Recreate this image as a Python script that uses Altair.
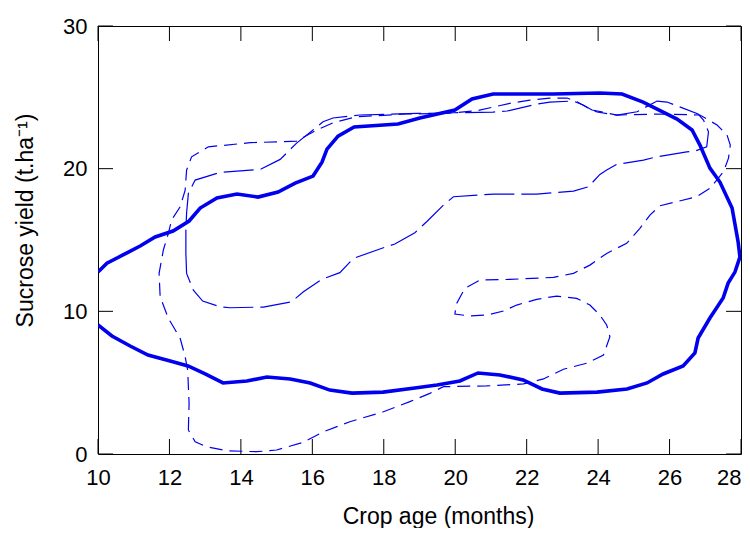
import altair as alt
import pandas as pd

BLUE = "#0000ee"
FONT = "Liberation Sans"
W, H = 643, 428

x_ticks = [10, 12, 14, 16, 18, 20, 22, 24, 26, 28]
y_ticks = [0, 10, 20, 30]

# Thick solid contour (open path from left edge, around, back to left edge)
thick_x = [10.00, 10.25, 10.70, 11.18, 11.60, 12.10, 12.55, 12.86, 13.33, 13.89,
           14.48, 15.04, 15.52, 16.02, 16.27, 16.41, 16.72, 17.17, 18.40, 19.01,
           19.99, 20.47, 21.06, 21.73, 22.74, 24.05, 24.67, 25.26, 25.82, 26.21,
           26.63, 26.85, 27.13, 27.41, 27.75, 27.92, 27.97, 27.83, 27.64, 27.50,
           27.13, 26.80, 26.71, 26.38, 25.82, 25.37, 24.81, 23.97, 22.93, 22.43,
           21.90, 21.25, 20.64, 20.13, 19.49, 18.87, 17.98, 17.11, 16.49, 15.94,
           15.38, 14.73, 14.17, 13.50, 13.00, 12.52, 12.02, 11.40, 10.90, 10.39,
           10.00]
thick_y = [12.75, 13.38, 13.95, 14.58, 15.21, 15.63, 16.33, 17.24, 17.94, 18.22,
           18.01, 18.36, 18.99, 19.48, 20.46, 21.37, 22.28, 22.92, 23.13, 23.55,
           24.11, 24.88, 25.23, 25.23, 25.23, 25.30, 25.23, 24.67, 23.97, 23.48,
           22.71, 21.65, 20.04, 19.06, 17.24, 14.86, 13.81, 12.75, 11.98, 10.93,
           9.53, 8.13, 7.08, 6.17, 5.61, 4.98, 4.56, 4.34, 4.27, 4.56,
           5.19, 5.54, 5.68, 5.12, 4.84, 4.63, 4.34, 4.27, 4.48, 4.98,
           5.26, 5.40, 5.12, 4.98, 5.61, 6.17, 6.52, 6.94, 7.57, 8.27,
           9.04]

# Long-dashed contour (closed loop)
ld_x = [12.46, 12.48, 12.67, 12.93, 13.42, 13.70, 14.63, 15.42, 15.75, 16.26,
        16.77, 17.15, 17.89, 18.31, 18.87, 19.20, 19.67, 19.95, 21.07, 22.28,
        23.31, 23.73, 24.05, 24.24, 24.52, 25.27, 25.64, 26.48, 26.71, 27.04,
        27.09, 26.95, 26.80, 25.93, 25.65, 25.09, 24.53, 23.83, 23.58, 23.30,
        22.65, 22.29, 21.45, 21.06, 19.94, 18.92, 17.33, 16.58, 16.30, 16.02,
        15.56, 15.10, 14.54, 13.42, 12.72, 12.53, 12.48, 12.46, 12.46]
ld_y = [14.06, 12.66, 11.49, 10.72, 10.32, 10.25, 10.30, 10.67, 11.37, 12.24,
        12.71, 13.71, 14.37, 14.72, 15.51, 16.28, 17.45, 18.03, 18.22, 18.22,
        18.43, 18.73, 19.60, 19.90, 20.30, 20.60, 20.83, 21.18, 21.23, 21.53,
        22.59, 23.41, 23.83, 24.67, 24.74, 23.99, 23.76, 24.11, 24.46, 24.74,
        24.67, 24.53, 24.04, 23.97, 23.92, 23.87, 23.76, 23.55, 23.29, 22.71,
        21.79, 20.65, 19.95, 19.74, 19.20, 18.27, 16.89, 15.70, 14.06]

# Short-dashed contour (closed loop with an inner notch)
sd_x = [12.53, 12.55, 12.51, 12.44, 12.30, 11.97, 11.74, 11.71, 11.83, 11.97,
        12.06, 12.30, 12.44, 12.48, 12.62, 13.09, 14.26, 15.56, 16.12, 16.59,
        17.24, 18.64, 19.76, 20.60, 21.11, 21.53, 22.09, 22.65, 23.13, 23.41,
        23.72, 23.97, 24.53, 25.65, 26.85, 27.33, 27.61, 27.70, 27.65, 27.51,
        27.13, 26.76, 25.73, 25.45, 25.17, 24.80, 24.24, 23.77, 23.31, 22.75,
        21.53, 20.69, 20.27, 20.04, 19.99, 20.41, 20.88, 21.35, 21.72, 22.28,
        22.84, 23.40, 23.77, 24.05, 24.24, 24.33, 24.15, 23.68, 23.03, 22.47,
        21.91, 20.88, 19.67, 19.29, 18.73, 17.99, 17.05, 16.31, 15.75, 15.00,
        14.44, 13.60, 13.04, 12.72, 12.53]
sd_y = [1.68, 3.55, 5.89, 6.82, 8.11, 9.51, 11.02, 12.66, 14.30, 15.47,
        16.40, 17.33, 18.50, 19.90, 20.83, 21.53, 21.82, 21.93, 22.71, 23.22,
        23.64, 23.83, 23.87, 24.06, 24.34, 24.58, 24.81, 24.95, 24.95, 24.69,
        24.25, 23.97, 23.76, 23.83, 23.76, 23.06, 22.35, 21.65, 20.74, 19.78,
        18.62, 18.03, 17.40, 16.75, 15.82, 14.77, 14.06, 13.24, 12.66, 12.38,
        12.24, 12.19, 11.61, 10.56, 9.81, 9.67, 9.74, 10.02, 10.44, 10.84,
        11.07, 10.91, 10.44, 9.74, 9.04, 8.22, 6.94, 6.36, 5.94, 5.26,
        4.91, 4.77, 4.72, 4.25, 3.67, 2.96, 2.26, 1.56, 0.82, 0.28,
        0.16, 0.23, 0.51, 0.86, 1.68]

X0, X1, Y0, Y1 = 10, 28, 0, 30


def frame(xv, yv):
    return pd.DataFrame({"x": xv, "y": yv, "i": list(range(len(xv)))})


thick_df = frame(thick_x, thick_y)
ld_df = frame(ld_x, ld_y)
sd_df = frame(sd_x, sd_y)

# inward tick marks (15 px long) built from the tick values as 2-point segments
tlen_y = 15 * (Y1 - Y0) / H
tlen_x = 15 * (X1 - X0) / W
rows = []
for k, v in enumerate(x_ticks):
    rows += [dict(x=v, y=Y0, s=f"b{k}", i=0), dict(x=v, y=Y0 + tlen_y, s=f"b{k}", i=1),
             dict(x=v, y=Y1, s=f"t{k}", i=0), dict(x=v, y=Y1 - tlen_y, s=f"t{k}", i=1)]
for k, v in enumerate(y_ticks):
    rows += [dict(x=X0, y=v, s=f"l{k}", i=0), dict(x=X0 + tlen_x, y=v, s=f"l{k}", i=1),
             dict(x=X1, y=v, s=f"r{k}", i=0), dict(x=X1 - tlen_x, y=v, s=f"r{k}", i=1)]
ticks_df = pd.DataFrame(rows)

xs = alt.Scale(domain=[X0, X1], nice=False, zero=False)
ys = alt.Scale(domain=[Y0, Y1], nice=False, zero=False)

label_x_axis = alt.Axis(
    values=x_ticks, ticks=False, domain=False, grid=False, labelFlush=False,
    labelFont=FONT, labelFontSize=22, labelColor="black", labelPadding=13,
    labelAlign={"condition": {"test": "datum.value == 28", "value": "right"},
                "value": "center"},
    title="Crop age (months)", titleFont=FONT, titleFontSize=23,
    titleFontWeight="normal", titleColor="black",
    titleX=340, titleY=69, titleBaseline="alphabetic", titleAlign="center",
)
label_y_axis = alt.Axis(
    values=y_ticks, ticks=False, domain=False, grid=False, labelFlush=False,
    labelFont=FONT, labelFontSize=22, labelColor="black", labelPadding=11,
    title="Sucrose yield (t.ha\u207b\u00b9)", titleFont=FONT, titleFontSize=23,
    titleFontWeight="normal", titleColor="black",
    titleX=-66, titleY=194, titleBaseline="alphabetic", titleAlign="center",
    titleAngle=270,
)

thick = alt.Chart(thick_df).mark_line(color=BLUE, strokeWidth=3.6, clip=True).encode(
    x=alt.X("x:Q", scale=xs, axis=label_x_axis),
    y=alt.Y("y:Q", scale=ys, axis=label_y_axis),
    order="i:Q",
)

long_dash = alt.Chart(ld_df).mark_line(
    color=BLUE, strokeWidth=1.2, strokeDash=[30, 7], clip=True
).encode(
    x=alt.X("x:Q", scale=xs, axis=None),
    y=alt.Y("y:Q", scale=ys, axis=None),
    order="i:Q",
)

short_dash = alt.Chart(sd_df).mark_line(
    color=BLUE, strokeWidth=1.2, strokeDash=[13, 7], clip=True
).encode(
    x=alt.X("x:Q", scale=xs, axis=None),
    y=alt.Y("y:Q", scale=ys, axis=None),
    order="i:Q",
)

ticks = alt.Chart(ticks_df).mark_line(color="black", strokeWidth=1).encode(
    x=alt.X("x:Q", scale=xs, axis=None),
    y=alt.Y("y:Q", scale=ys, axis=None),
    detail="s:N",
    order="i:Q",
)

chart = (
    alt.layer(long_dash, ticks, short_dash, thick)
    .resolve_axis(x="independent", y="independent")
    .properties(
        width=W, height=H, autosize="none",
        padding={"left": 90, "top": 18, "right": 1, "bottom": 74},
        background="white",
    )
    .configure_view(stroke="black", strokeWidth=1)
)

chart.save("out.html", embed_options={"renderer": "svg", "actions": False})
